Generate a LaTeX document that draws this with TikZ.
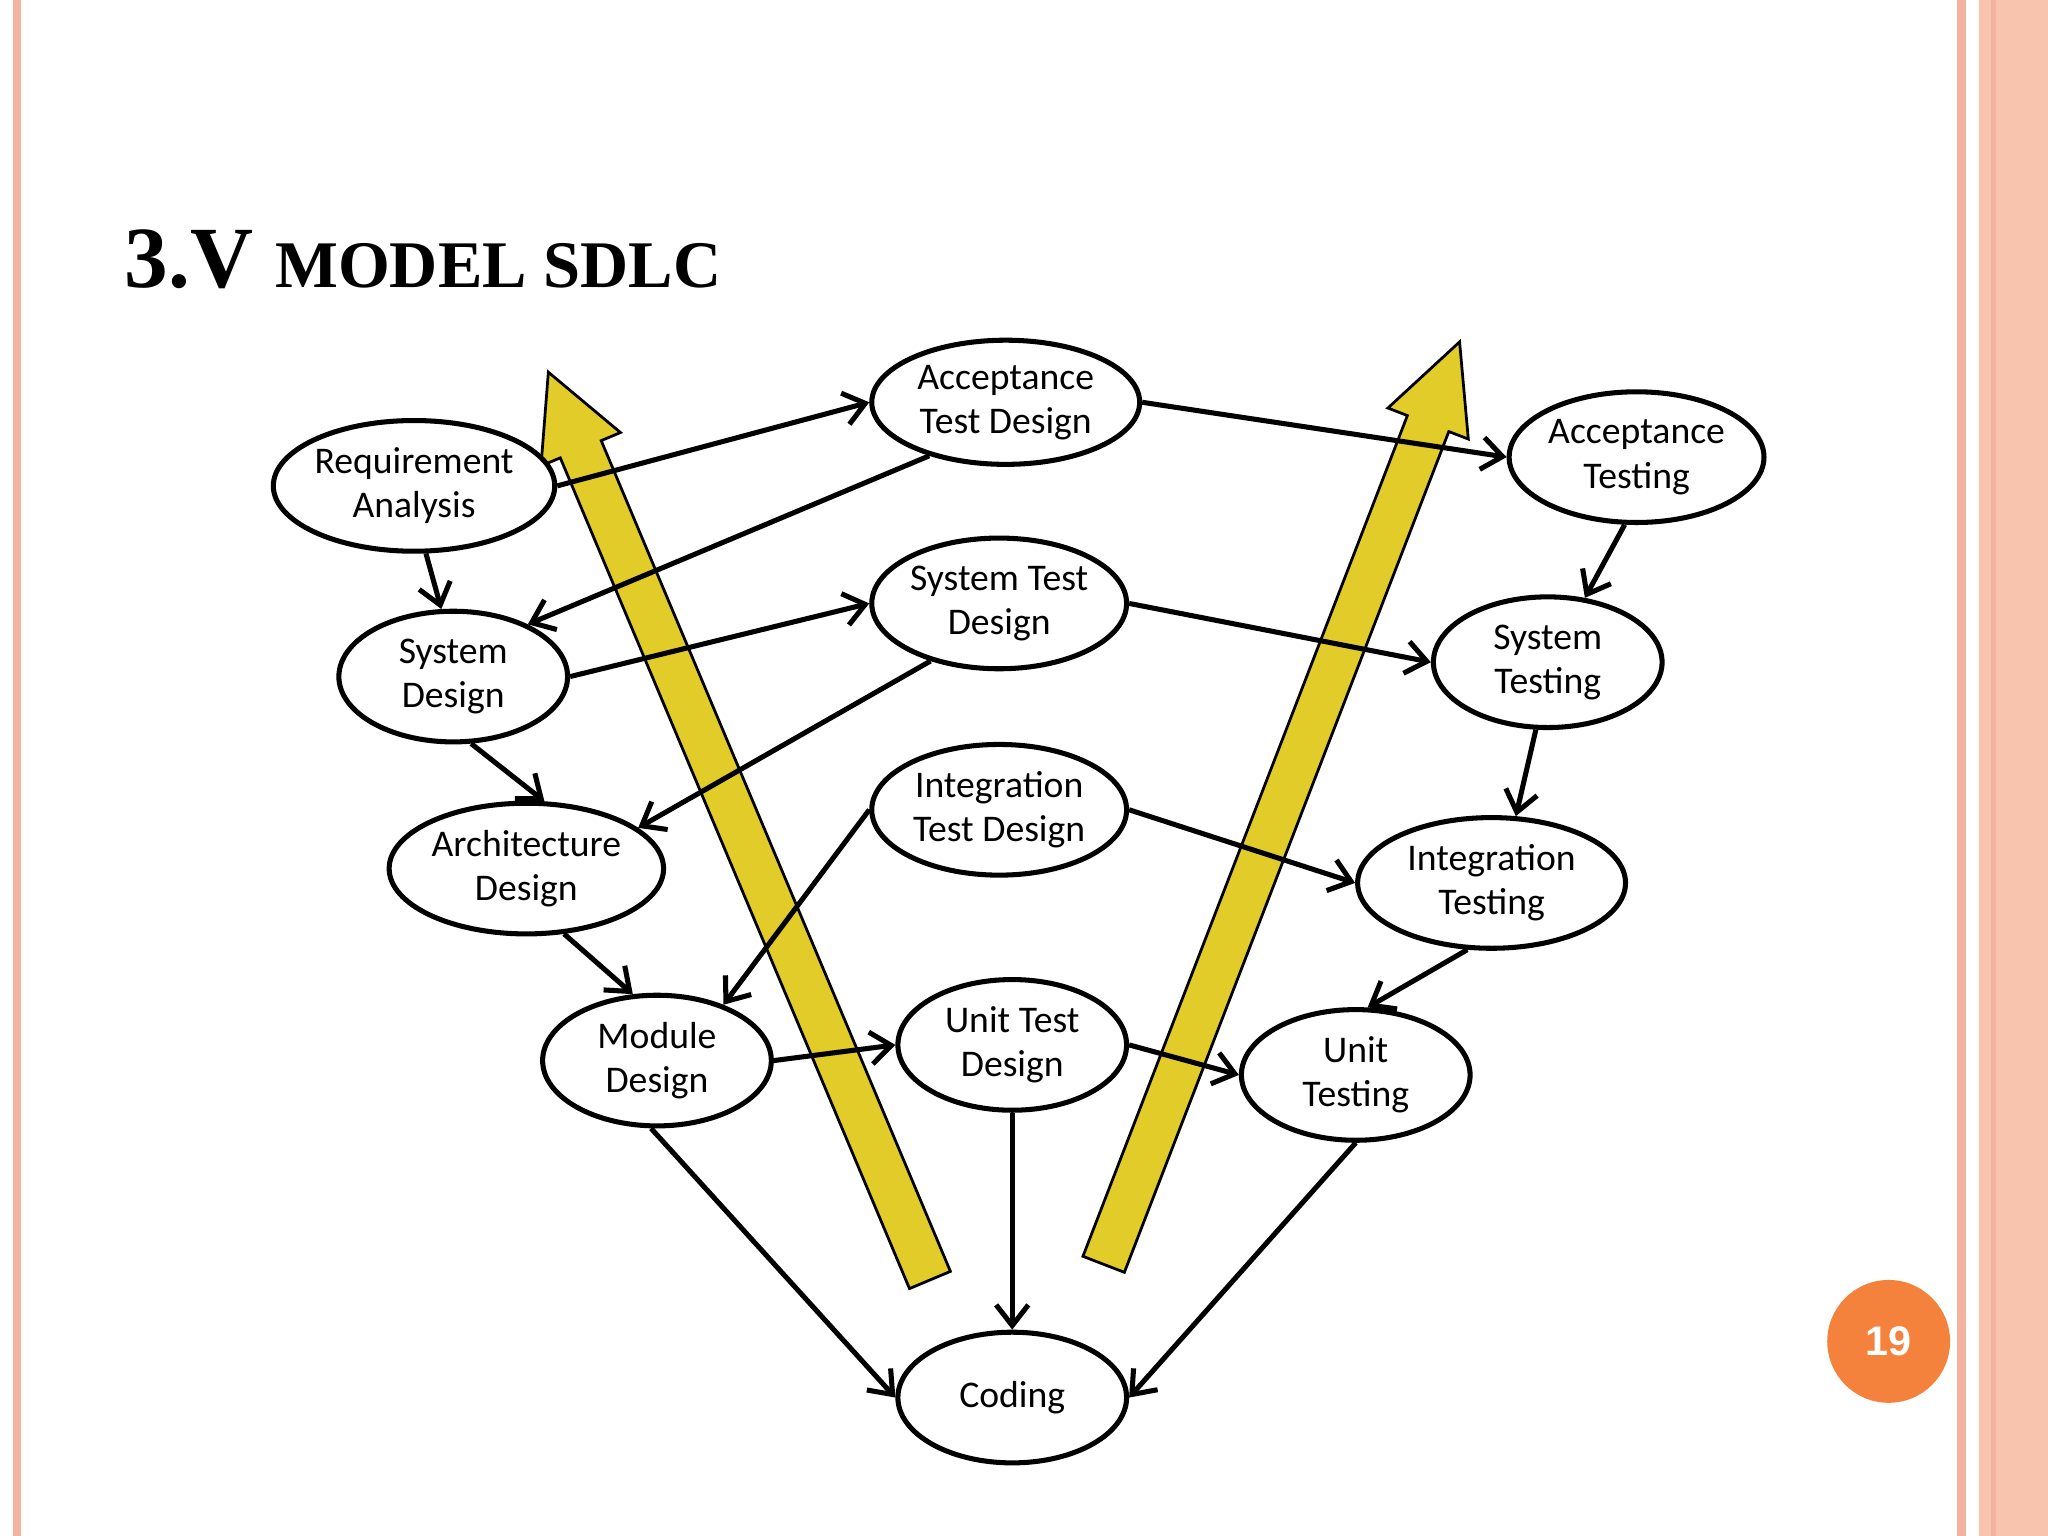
\documentclass[tikz,border=0pt]{standalone}
\usepackage{fontspec}
\setmainfont{Liberation Serif}
\newfontfamily\carl{Carlito}
\newfontfamily\lsans{Liberation Sans}
\usetikzlibrary{shapes.geometric,arrows.meta}
\definecolor{pinkline}{HTML}{F3B3A0}
\definecolor{pinkband}{HTML}{F8C4AE}
\definecolor{vyellow}{HTML}{E2CC2A}
\definecolor{porange}{HTML}{F4823C}
\begin{document}
\begin{tikzpicture}[x=0.01cm,y=0.01cm,
  ell/.style={ellipse,draw,line width=1.1pt,fill=white,inner sep=0pt,align=center,
    font=\carl\fontsize{8.2}{9.6}\selectfont},
  con/.style={line width=1.1pt,-{Straight Barb[length=4.5pt,width=7pt,line width=1.1pt]}},
  yarrow/.style={fill=vyellow,draw=black,line width=0.6pt,line join=miter}]
\useasboundingbox (0,0) rectangle (1568,-1176);
\fill[white] (0,0) rectangle (1568,-1176);
\fill[pinkline] (10,0) rectangle (16,-1176);
\fill[pinkline] (1498,0) rectangle (1505,-1176);
\fill[pinkband] (1515,0) rectangle (1568,-1176);
\fill[pinkline] (1524,0) rectangle (1528,-1176);
\node[anchor=base west,inner sep=0pt,font=\bfseries\fontsize{19}{22}\selectfont] (title) at (95,-220) {3.V {\fontsize{14.5}{16}\selectfont MODEL SDLC}};
% yellow arrows
\begin{scope}[shift={(712,-980)},rotate=112.8]
\draw[yarrow] (0,-17) -- (690,-17) -- (690,-33) -- (754,0) -- (690,33) -- (690,17) -- (0,17) -- cycle;
\end{scope}
\begin{scope}[shift={(845,-968)},rotate=68.9]
\draw[yarrow] (0,-17) -- (690,-17) -- (690,-33) -- (757,0) -- (690,33) -- (690,17) -- (0,17) -- cycle;
\end{scope}
% nodes
\node[ell,minimum width=2.15cm,minimum height=1cm] (ra) at (317,-372) {Requirement\\Analysis};
\node[ell,minimum width=2.05cm,minimum height=0.95cm] (atd) at (770,-308) {Acceptance\\Test Design};
\node[ell,minimum width=1.95cm,minimum height=1cm] (at) at (1253,-350) {Acceptance\\Testing};
\node[ell,minimum width=1.75cm,minimum height=1cm] (sd) at (347,-518) {System\\Design};
\node[ell,minimum width=1.95cm,minimum height=1cm] (std) at (765,-462) {System Test\\Design};
\node[ell,minimum width=1.75cm,minimum height=1cm] (st) at (1185,-507) {System\\Testing};
\node[ell,minimum width=2.1cm,minimum height=1cm] (ad) at (403,-665) {Architecture\\Design};
\node[ell,minimum width=1.95cm,minimum height=1cm] (itd) at (765,-620) {Integration\\Test Design};
\node[ell,minimum width=2.05cm,minimum height=1cm] (it) at (1142,-676) {Integration\\Testing};
\node[ell,minimum width=1.75cm,minimum height=1cm] (md) at (503,-812) {Module\\Design};
\node[ell,minimum width=1.75cm,minimum height=1cm] (utd) at (775,-800) {Unit Test\\Design};
\node[ell,minimum width=1.75cm,minimum height=1cm] (ut) at (1038,-823) {Unit\\Testing};
\node[ell,minimum width=1.75cm,minimum height=1cm] (cod) at (775,-1070) {Coding};
% connectors
\draw[con] (ra.east) -- (atd.west);
\draw[con] (atd.-145) -- (sd.35);
\draw[con] (ra.-80) -- (sd.100);
\draw[con] (sd.east) -- (std.west);
\draw[con] (std.-140) -- (ad.20);
\draw[con] (sd.-75) -- (ad.75);
\draw[con] (ad.-60) -- (md.110);
\draw[con] (itd.west) -- (md.40);
\draw[con] (md.east) -- (utd.west);
\draw[con] (atd.east) -- (at.west);
\draw[con] (at.-100) -- (st.60);
\draw[con] (std.east) -- (st.west);
\draw[con] (st.-100) -- (it.70);
\draw[con] (itd.east) -- (it.west);
\draw[con] (it.-110) -- (ut.80);
\draw[con] (utd.east) -- (ut.west);
\draw[con] (md.-95) -- (cod.west);
\draw[con] (utd.south) -- (cod.north);
\draw[con] (ut.-90) -- (cod.east);
% page number
\node[circle,fill=porange,minimum size=0.94cm,inner sep=0pt,text=white,font=\lsans\bfseries\fontsize{9}{11}\selectfont] (pg) at (1446,-1027) {19};
\end{tikzpicture}
\end{document}
